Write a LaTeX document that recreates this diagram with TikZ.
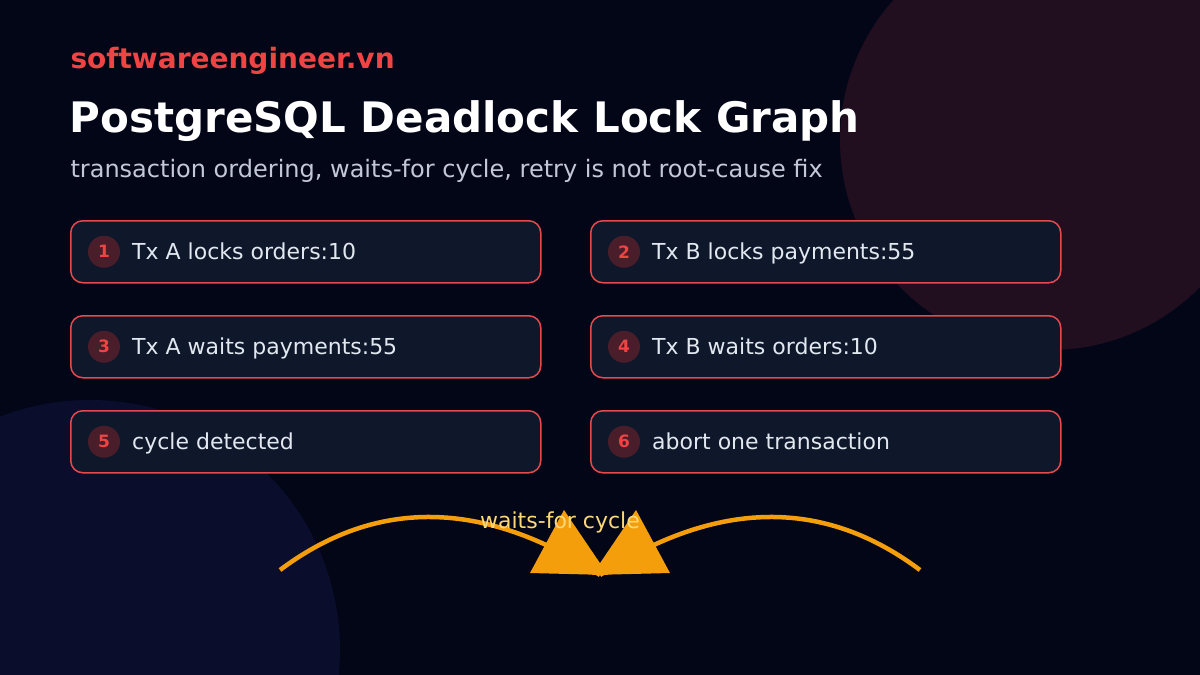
\documentclass[tikz,border=0pt]{standalone}
\usepackage{fontspec}
\setmainfont{DejaVu Sans}
\usetikzlibrary{positioning}
\definecolor{bgdark}{HTML}{030617}
\definecolor{blobred}{HTML}{210F20}
\definecolor{blobblue}{HTML}{0A0D2B}
\definecolor{boxfill}{HTML}{0F172A}
\definecolor{boxline}{HTML}{E5484D}
\definecolor{badgefill}{HTML}{4A1D2A}
\definecolor{brandred}{HTML}{EF4444}
\definecolor{subgrey}{HTML}{C3C8D6}
\definecolor{textgrey}{HTML}{E2E8F0}
\definecolor{wirecol}{HTML}{F59E0B}
\definecolor{labelcol}{HTML}{FCD878}

\begin{document}
\begin{tikzpicture}
  [
    x = 1pt, y = -1pt,
    stepbox/.style = {draw = boxline, fill = boxfill, line width = 1.5pt,
      rounded corners = 12pt, minimum width = 470pt, minimum height = 62pt,
      anchor = north west},
    badge/.style = {circle, fill = badgefill, minimum size = 32pt, inner sep = 0pt,
      text = brandred, font = \fontsize{17}{20}\selectfont\bfseries},
    steptext/.style = {anchor = base west, inner xsep = 0pt, text = textgrey,
      font = \fontsize{22}{24}\selectfont},
    wire/.style = {draw = wirecol, line width = 4.5pt}
  ]
  \useasboundingbox (0,0) rectangle (1200,675);
  \fill [bgdark] (0,0) rectangle (1200,675);
  \begin{scope}
    \clip (0,0) rectangle (1200,675);
    \fill [blobred] (1050,140) circle (210);
    \fill [blobblue] (90,650) circle (250);
  \end{scope}

  % headings
  \node [anchor = west, text = brandred, font = \fontsize{28}{30}\selectfont\bfseries]
    (brand) at (67,61) {softwareengineer.vn};
  \node [anchor = west, text = white, font = \fontsize{42}{46}\selectfont\bfseries]
    (title) at (66,121) {PostgreSQL Deadlock Lock Graph};
  \node [anchor = west, text = subgrey, font = \fontsize{24}{26}\selectfont]
    (subtitle) at (67,171) {transaction ordering, waits-for cycle, retry is not root-cause fix};

  % steps
  \foreach \n/\x/\y/\txt in {1/70/220/Tx A locks orders:10, 2/590/220/Tx B locks payments:55,
      3/70/315/Tx A waits payments:55, 4/590/315/Tx B waits orders:10,
      5/70/410/cycle detected, 6/590/410/abort one transaction} {
    \node [stepbox] (S\n) at (\x,\y) {};
    \node [badge] (B\n) at ([xshift = 34pt]S\n.west) {\n};
    \node [steptext] (T\n) at ([xshift = 62pt, yshift = -8pt]S\n.west) {\txt};
  }

  % waits-for cycle
  \coordinate (left)  at (280,570);
  \coordinate (mid)   at (600,575);
  \coordinate (right) at (920,570);
  \draw [wire] (left) .. controls (376,498) and (483,499) .. (mid);
  \draw [wire] (right) .. controls (824,498) and (717,499) .. (mid);
  \fill [wirecol] (530,573) -- (564,510) -- (608,575) -- cycle;
  \fill [wirecol] (592,575) -- (636,510) -- (670,573) -- cycle;
  \node [text = labelcol, font = \fontsize{22}{24}\selectfont] (cyclelabel) at (560,522) {waits-for cycle};
\end{tikzpicture}
\end{document}
